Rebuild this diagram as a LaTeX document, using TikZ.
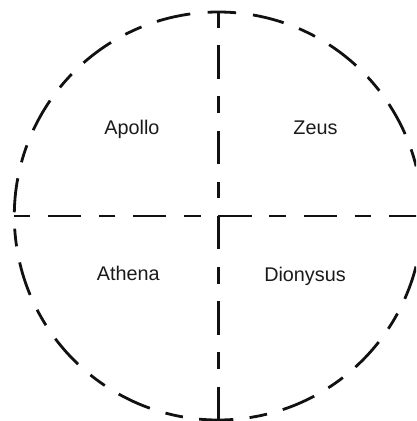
\documentclass[tikz,border=0pt]{standalone}
\usepackage{fontspec}
\setmainfont{Liberation Sans}
\definecolor{ink}{HTML}{111111}
\definecolor{txt}{HTML}{1A1A1A}
\begin{document}
\begin{tikzpicture}[x=1pt,y=1pt,
  rim/.style={draw=ink,line width=2.8pt,
    dash pattern=on 34.2pt off 16.4pt on 17.8pt off 16.4pt},
  outward/.style={draw=ink,line width=2.8pt,
    dash pattern=on 33.4pt off 17.6pt on 16.7pt off 17.6pt},
  inward/.style={draw=ink,line width=2.8pt,
    dash pattern=on 16.7pt off 17.6pt on 33.4pt off 17.6pt,dash phase=67.7pt},
  tick/.style={draw=ink,line width=2.8pt},
  label/.style={text=txt,font=\fontsize{19.8}{23}\selectfont,anchor=base,inner sep=0pt}]
\useasboundingbox (0,0) rectangle (416,421);
\clip (0,0) rectangle (416,421);
\coordinate (c) at (218.3,205);
\coordinate (top) at (218.3,409);
\coordinate (bot) at (218.3,1);
\coordinate (lft) at (14.3,205);
\coordinate (rgt) at (430,205);
% dashed circle
\draw[rim] (c) ++(97.9:204) arc[start angle=97.9,end angle=440.2,radius=204];
\draw[tick] (c) ++(85:204) arc[start angle=85,end angle=93,radius=204];
% cross
\draw[outward] (c) -- (rgt);
\draw[outward] (c) -- (bot);
\draw[inward] (c) -- (lft);
\draw[inward] (c) -- (top);
% labels
\node[label] (apollo) at (132,286.5) {Apollo};
\node[label] (zeus) at (315.5,286.5) {Zeus};
\node[label] (athena) at (128.3,140.5) {Athena};
\node[label] (dionysus) at (305,139.5) {Dionysus};
\end{tikzpicture}
\end{document}
